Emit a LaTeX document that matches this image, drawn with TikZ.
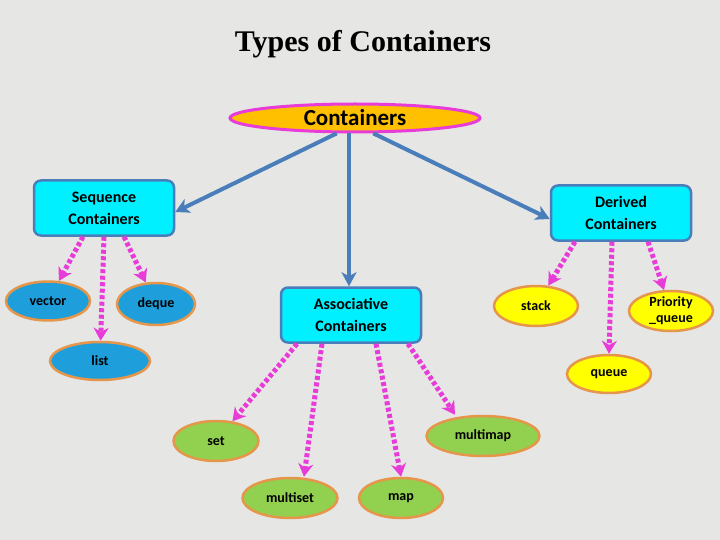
\documentclass[tikz,border=0pt]{standalone}
\usepackage{fontspec}
\setmainfont{Carlito}
\usetikzlibrary{shapes.geometric,arrows.meta}
\definecolor{bg}{HTML}{E6E6E4}
\definecolor{cyanbox}{HTML}{00F0FF}
\definecolor{boxedge}{HTML}{4A7EBB}
\definecolor{mag}{HTML}{E83CD8}
\definecolor{orangef}{HTML}{FFC000}
\definecolor{bluef}{HTML}{1E9FDC}
\definecolor{greenf}{HTML}{92D050}
\definecolor{yellowf}{HTML}{FFFF00}
\definecolor{ell}{HTML}{E5964A}
\tikzset{
 box/.style={draw=boxedge,line width=2.5pt,fill=cyanbox,rounded corners=7pt,minimum width=140pt,minimum height=55pt,align=center,font=\fontsize{16}{22}\selectfont\bfseries},
 leaf/.style={ellipse,draw=ell,line width=2.5pt,minimum width=84pt,minimum height=39pt,inner sep=0pt,align=center,font=\fontsize{14}{16}\selectfont\bfseries},
 bl/.style={leaf,fill=bluef},
 gr/.style={leaf,fill=greenf},
 ye/.style={leaf,fill=yellowf},
 main/.style={-{Stealth[length=14pt,width=15pt,inset=4pt]},draw=boxedge,line width=4pt},
 dot/.style={-{Stealth[length=13pt,width=15pt]},draw=mag,line width=5pt,dash pattern=on 4pt off 2.5pt}
}
\begin{document}
\begin{tikzpicture}[x=1pt,y=-1pt]
\fill[bg] (0,0) rectangle (720,540);
\useasboundingbox (0,0) rectangle (720,540);
\node (title) at (363,44) {\fontspec{Liberation Serif}\fontsize{30}{33}\selectfont\bfseries Types of Containers};
\node[ellipse,draw=mag,line width=3pt,fill=orangef,minimum width=250pt,minimum height=28pt,inner sep=0pt,font=\fontsize{23}{26}\selectfont\bfseries] (cont) at (355,118) {Containers};
\node[box] (seq) at (104,208) {Sequence\\Containers};
\node[box] (der) at (621,213) {Derived\\Containers};
\node[box] (ass) at (351,315) {Associative\\Containers};
\node[bl] (vector) at (48,301) {vector};
\node[bl,minimum width=78pt,minimum height=42pt] (deque) at (156,304) {deque};
\node[bl,minimum width=100pt,minimum height=38pt] (list) at (100,361) {list};
\node[ye,minimum height=40pt] (stack) at (536,306) {stack};
\node[ye,minimum height=40pt] (pq) at (671,311) {Priority\\\_queue};
\node[ye,minimum height=38pt] (queue) at (609,374) {queue};
\node[gr,minimum width=85pt,minimum height=40pt] (set) at (216,441) {set};
\node[gr,minimum width=95pt,minimum height=40pt] (mset) at (290,498) {multiset};
\node[gr,minimum height=40pt] (map) at (401,498) {map};
\node[gr,minimum width=113pt,minimum height=40pt] (mmap) at (483,436) {multimap};
\draw[main] (cont.-140) -- ([yshift=-4pt]seq.east);
\draw[main] (cont.-40) -- ([yshift=-6pt]der.west);
\draw[main] ([xshift=-6pt]cont.south) -- ([xshift=-2pt]ass.north);
\draw[dot] ([xshift=-21pt]seq.south) -- (vector);
\draw[dot] (seq.south) -- (list);
\draw[dot] ([xshift=20pt]seq.south) -- (deque);
\draw[dot] ([xshift=-46pt]der.south) -- (stack);
\draw[dot] ([xshift=-9pt]der.south) -- (queue.north);
\draw[dot] ([xshift=27pt]der.south) -- (pq);
\draw[dot] ([xshift=-54pt]ass.south) -- (set);
\draw[dot] ([xshift=-29pt]ass.south) -- ([xshift=14pt]mset.north);
\draw[dot] ([xshift=25pt]ass.south) -- (map.north);
\draw[dot] ([xshift=57pt]ass.south) -- ([xshift=-28pt]mmap.north);
\end{tikzpicture}
\end{document}
